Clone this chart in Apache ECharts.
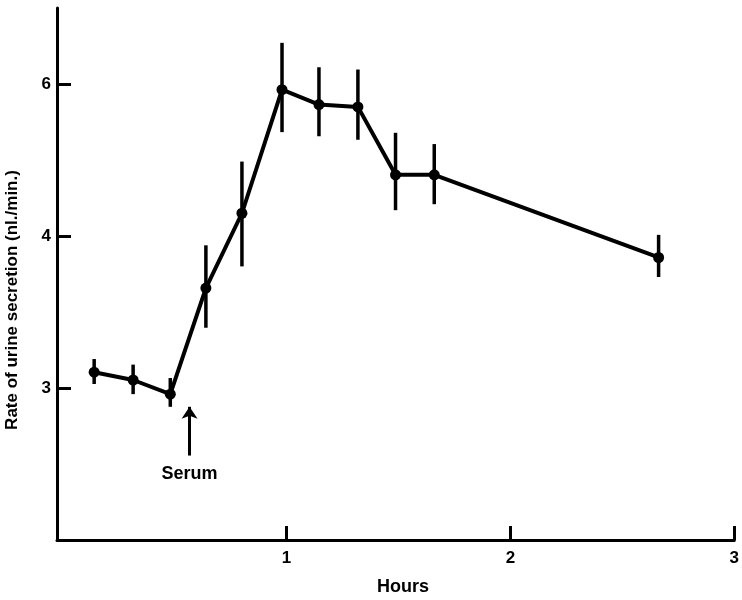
<!DOCTYPE html>
<html><head><meta charset="utf-8">
<script src="https://cdn.jsdelivr.net/npm/echarts@6/dist/echarts.min.js"></script>
<style>html,body{margin:0;background:#fff}#c{width:742px;height:600px}</style>
</head><body><div id="c"></div>
<script>
// Data (hours vs rate of urine secretion, nl./min.)
const hours    = [0.141, 0.315, 0.481, 0.640, 0.801, 0.980, 1.145, 1.319, 1.487, 1.660, 2.662];
const rate     = [3.08, 3.04, 2.97, 3.59, 4.21, 5.89, 5.62, 5.58, 4.62, 4.62, 3.82];
const rateHigh = [3.15, 3.12, 3.05, 3.92, 4.78, 6.94, 6.35, 6.30, 5.17, 5.01, 4.01];
const rateLow  = [3.02, 2.97, 2.91, 3.33, 3.75, 5.18, 5.12, 5.07, 4.24, 4.30, 3.67];
const yTicks = [3, 4, 6];
const xTicks = [1, 2, 3];
const serumHour = 0.567;
const serumArrowFrom = 2.70, serumArrowTo = 2.91, serumLabelAt = 2.63;

// Reciprocal scale: plot -1/rate on a linear axis
const t = r => -1 / r;
const FONT = 'Liberation Sans';

const chart = echarts.init(document.getElementById('c'), null, {renderer: 'canvas'});
chart.setOption({
  animation: false,
  backgroundColor: '#fff',
  grid: {left: 57, right: 5, top: 8, bottom: 60, containLabel: false},
  xAxis: {
    type: 'value', min: -0.025, max: 3,
    axisLine: {onZero: false, lineStyle: {color: '#000', width: 3}},
    axisTick: {show: true, inside: true, length: 14, lineStyle: {color: '#000', width: 3}, customValues: xTicks},
    axisLabel: {customValues: xTicks, color: '#000', fontSize: 17, fontWeight: 'bold', fontFamily: FONT, margin: 10},
    splitLine: {show: false}
  },
  yAxis: {
    type: 'value', min: -5/12, max: -1/8,
    axisLine: {show: true, onZero: false, lineStyle: {color: '#000', width: 3}},
    axisTick: {show: true, inside: true, length: 14, lineStyle: {color: '#000', width: 3}, customValues: yTicks.map(t)},
    axisLabel: {customValues: yTicks.map(t), formatter: v => String(Math.round(-1 / v)), color: '#000', fontSize: 17, fontWeight: 'bold', fontFamily: FONT, margin: 6},
    splitLine: {show: false}
  },
  graphic: [
    {type: 'text', left: 406 - 29, top: 578, style: {text: 'Hours', fill: '#000', font: 'bold 18px "Liberation Sans"'}},
    {type: 'text', x: 4, y: 300, rotation: Math.PI / 2, style: {text: 'Rate of urine secretion (nl./min.)', fill: '#000', font: 'bold 17px "Liberation Sans"', align: 'center', verticalAlign: 'top'}}
  ],
  series: [
    {
      type: 'custom',
      data: hours.map((h, i) => [h, t(rateLow[i]), t(rateHigh[i])]),
      renderItem: (params, api) => {
        const p1 = api.coord([api.value(0), api.value(1)]);
        const p2 = api.coord([api.value(0), api.value(2)]);
        return {type: 'line', shape: {x1: p1[0], y1: p1[1], x2: p2[0], y2: p2[1]}, style: {stroke: '#000', lineWidth: 3.5}};
      },
      z: 3
    },
    {
      type: 'line',
      data: hours.map((h, i) => [h, t(rate[i])]),
      symbol: 'circle', symbolSize: 11,
      itemStyle: {color: '#000'},
      lineStyle: {color: '#000', width: 4},
      z: 4
    },
    {
      type: 'custom',
      data: [[serumHour, t(serumLabelAt)]],
      renderItem: (params, api) => {
        const p = api.coord([api.value(0), api.value(1)]);
        return {type: 'text', x: p[0], y: p[1], style: {text: 'Serum', fill: '#000', font: 'bold 18px "Liberation Sans"', align: 'center', verticalAlign: 'middle'}};
      },
      markLine: {
        silent: true,
        symbol: ['none', 'arrow'], symbolSize: 12,
        label: {show: false},
        lineStyle: {color: '#000', width: 3, type: 'solid'},
        data: [[{coord: [serumHour, t(serumArrowFrom)]}, {coord: [serumHour, t(serumArrowTo)]}]]
      }
    }
  ]
});
</script></body></html>
